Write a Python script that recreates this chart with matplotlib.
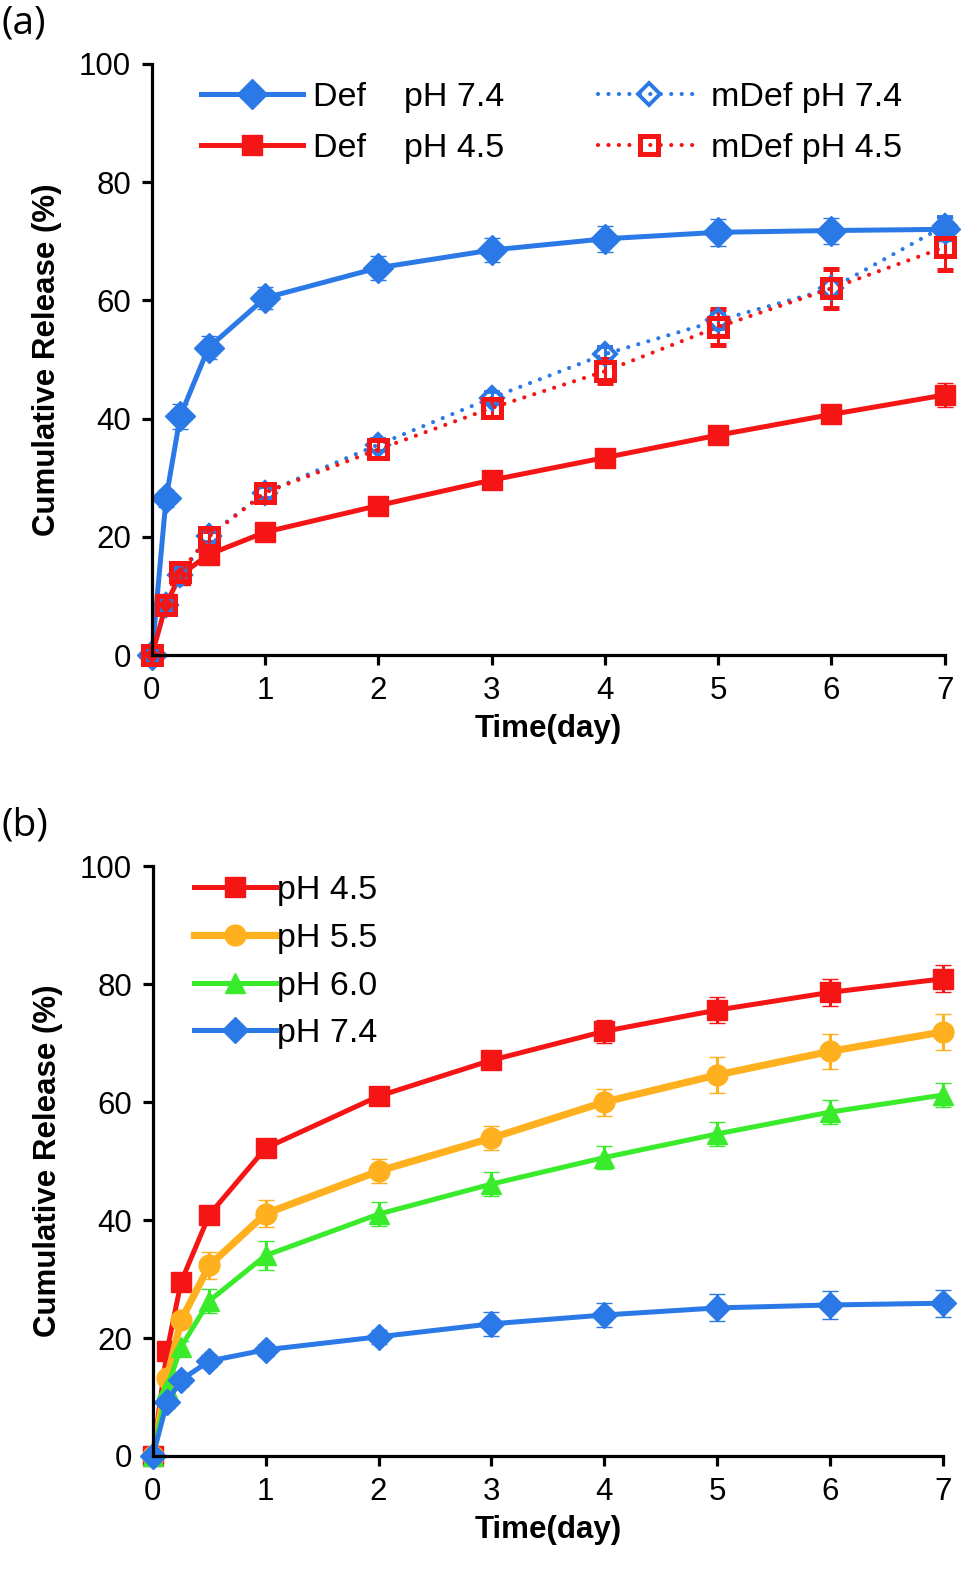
import numpy as np
import matplotlib
matplotlib.use('Agg')
import matplotlib.pyplot as plt

plt.rcParams['font.family'] = ['Liberation Sans', 'DejaVu Sans']

# time points (day)
t = [0, 0.125, 0.25, 0.5, 1, 2, 3, 4, 5, 6, 7]

# panel (a)
labels_a = ['Def    pH 7.4', 'Def    pH 4.5', 'mDef pH 7.4', 'mDef pH 4.5']
def74 = [0, 26.5, 40.4, 52, 60.4, 65.5, 68.5, 70.4, 71.5, 71.8, 72]
def74_err = [0.5, 1.5, 2.1, 2.0, 1.8, 2.0, 2.0, 2.2, 2.3, 2.2, 2.0]
def45 = [0, 8.6, 13.5, 17, 20.8, 25.3, 29.6, 33.4, 37.2, 40.7, 44]
def45_err = [0.5, 1.0, 1.0, 1.0, 1.0, 1.0, 1.0, 1.2, 1.5, 1.5, 2.0]
mdef74 = [0, 8.5, 13.5, 20.2, 27.5, 35.6, 43.5, 50.9, 56.6, 62, 72.6]
mdef74_err = [0.5, 1.0, 1.0, 1.0, 1.0, 1.0, 1.0, 1.2, 1.5, 1.5, 1.5]
mdef45 = [0, 8.5, 14, 20, 27.5, 34.8, 41.8, 48, 55.5, 62, 69]
mdef45_err = [0.5, 1.0, 1.0, 1.0, 1.2, 1.5, 1.5, 2.0, 3.0, 3.3, 3.8]

# panel (b)
labels_b = ['pH 4.5', 'pH 5.5', 'pH 6.0', 'pH 7.4']
ph45 = [0, 17.8, 29.5, 40.9, 52.2, 61, 67.1, 72, 75.6, 78.6, 80.9]
ph45_err = [0.5, 1.0, 1.0, 1.0, 1.0, 1.2, 1.5, 2.0, 2.2, 2.3, 2.3]
ph55 = [0, 13.2, 23, 32.3, 41.1, 48.3, 53.9, 60, 64.6, 68.6, 71.9]
ph55_err = [0.5, 1.0, 1.0, 2.3, 2.3, 2.0, 2.0, 2.3, 3.0, 3.0, 3.0]
ph60 = [0, 11.5, 18.5, 26.3, 34, 41, 46.1, 50.6, 54.6, 58.3, 61.2]
ph60_err = [0.5, 1.0, 1.0, 2.0, 2.5, 2.0, 2.0, 2.0, 2.0, 2.0, 2.0]
ph74 = [0, 9.1, 12.9, 16.1, 18, 20.2, 22.4, 23.9, 25.1, 25.6, 25.9]
ph74_err = [0.5, 1.0, 1.0, 1.0, 1.0, 1.2, 2.0, 2.0, 2.3, 2.3, 2.3]

blue = '#2B79E6'
red = '#F51515'
orange = '#FFB01E'
green = '#3AEB2C'

fig = plt.figure(figsize=[9.8, 15.94], dpi=100)
ax1 = fig.add_axes([0.155, 0.589, 0.809, 0.371])
ax2 = fig.add_axes([0.156, 0.0866, 0.806, 0.370])


def style_axes(ax):
    ax.set_xlim(0, 7)
    ax.set_ylim(0, 100)
    ax.set_xticks(range(8))
    ax.set_yticks(range(0, 101, 20))
    for s in ['top', 'right']:
        ax.spines[s].set_visible(False)
    for s in ['left', 'bottom']:
        ax.spines[s].set_linewidth(2.3)
    ax.tick_params(direction='out', length=7, width=2.3, labelsize=22.5, pad=8)
    ax.set_xlabel('Time(day)', fontsize=22.5, fontweight='bold', labelpad=6)
    ax.set_ylabel('Cumulative Release (%)', fontsize=22.5, fontweight='bold', labelpad=12)


def series(ax, y, err, color, marker, ms, lw=3.6, ls='-', mfc=None, mew=1.0):
    c = ax.errorbar(t, y, yerr=err, color=color, marker=marker, markersize=ms,
                    linewidth=lw, linestyle=ls, markerfacecolor=mfc if mfc else color,
                    markeredgecolor=color, markeredgewidth=mew, ecolor=color,
                    elinewidth=2.2, capsize=6, capthick=2.2, clip_on=False,
                    dash_capstyle='round')
    return c[0]


# (a)
la = []
la.append(series(ax1, def74, def74_err, blue, 'D', 15.5))
la.append(series(ax1, def45, def45_err, red, 's', 15))
la.append(series(ax1, mdef74, mdef74_err, blue, 'D', 11.5, lw=3.0,
                 ls=(0, (0.01, 2.5)), mfc='none', mew=2.8))
la.append(series(ax1, mdef45, mdef45_err, red, 's', 13, lw=3.0,
                 ls=(0, (0.01, 2.5)), mfc='none', mew=3.6))
style_axes(ax1)
ax1.legend(la, labels_a, ncol=2, loc='upper left',
           bbox_to_anchor=(0.03, 1.012), frameon=False, fontsize=24.5, handlelength=3.0,
           handletextpad=0.3, columnspacing=2.75, labelspacing=0.58, borderpad=0.25,
           numpoints=1)

# (b)
lb = []
lb.append(series(ax2, ph45, ph45_err, red, 's', 14))
lb.append(series(ax2, ph55, ph55_err, orange, 'o', 15, lw=5.2))
lb.append(series(ax2, ph60, ph60_err, green, '^', 15))
lb.append(series(ax2, ph74, ph74_err, blue, 'D', 13.5))
style_axes(ax2)
ax2.legend(lb, labels_b, loc='upper left', bbox_to_anchor=(0.022, 1.025),
           frameon=False, fontsize=24.5, handlelength=2.4, handletextpad=0.05,
           labelspacing=0.49, borderpad=0.2, numpoints=1)

fig.text(0.002, 0.985, '(a)', fontsize=28, family='Open Sans', va='center')
fig.text(0.002, 0.482, '(b)', fontsize=28, family='Open Sans', va='center')

fig.savefig('out.png', dpi=100)
